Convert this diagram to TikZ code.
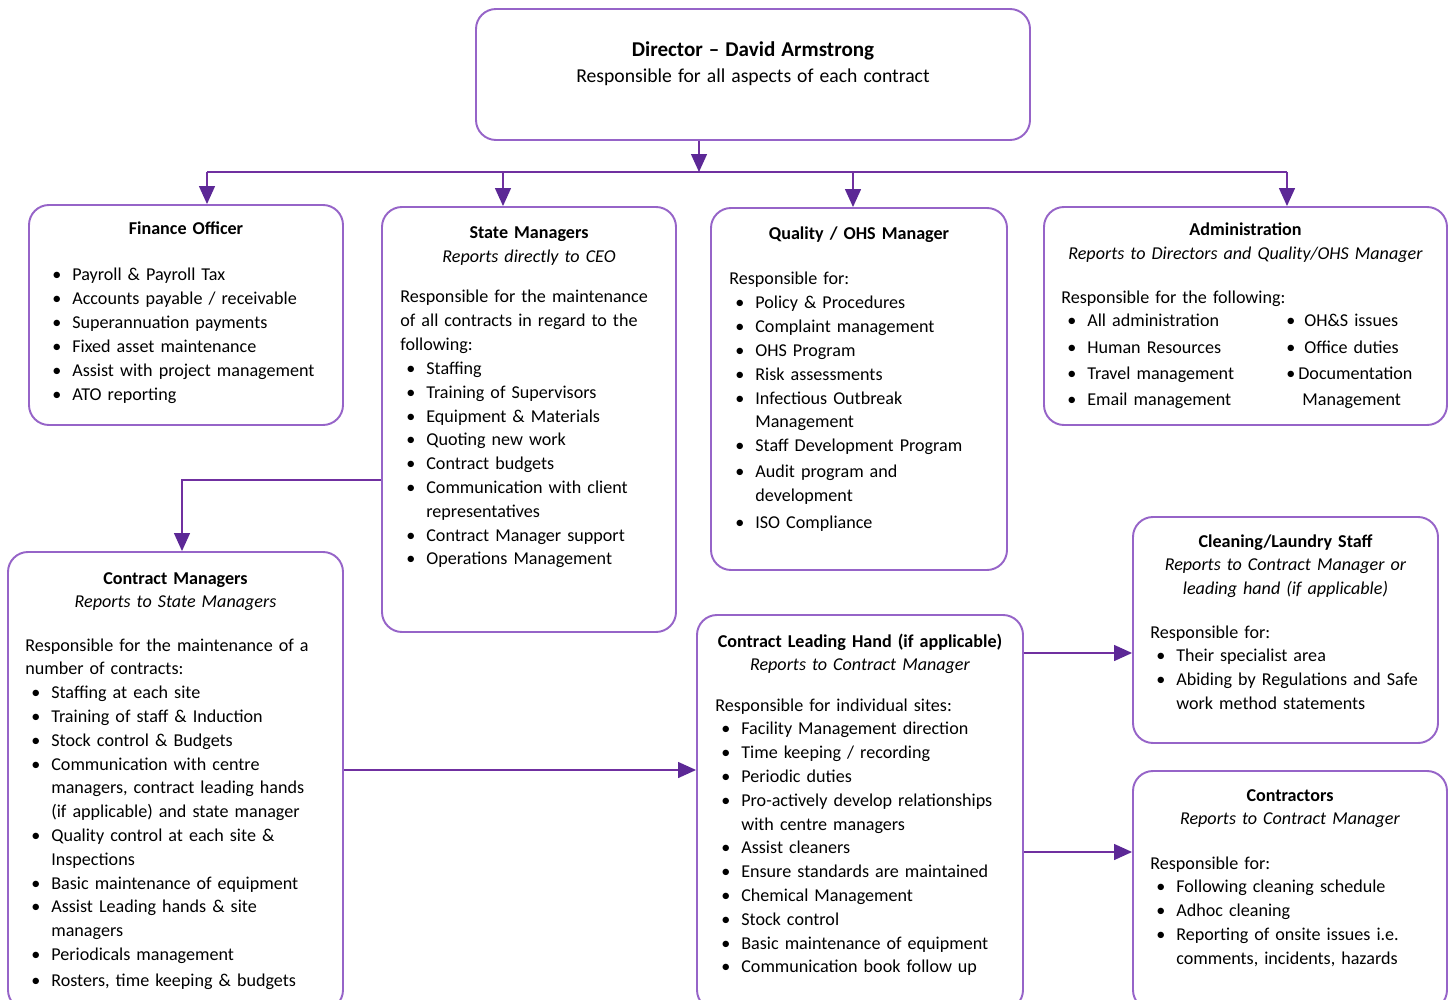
\documentclass[tikz,border=0pt]{standalone}
\usepackage{fontspec}
\setmainfont{Carlito}
\usetikzlibrary{arrows.meta,fit}
\definecolor{boxline}{RGB}{150,100,200}
\definecolor{linkline}{RGB}{112,48,160}
\definecolor{tipfill}{RGB}{92,40,150}
\newcommand{\bfirst}{\noindent\hbox to 0.52cm{\hspace{0.12cm}\textbullet\hfil}}
\newcommand{\bitem}{\par\bfirst}
\newcommand{\bnext}{\par\noindent\hspace*{0.52cm}}
\tikzset{
	orgbox/.style={draw=boxline,line width=1.1pt,rounded corners=0.4cm,inner sep=0pt},
	bus/.style={draw=linkline,line width=0.8pt},
	link/.style={bus,-{Triangle[width=0.32cm,length=0.36cm,color=tipfill]}},
	headtext/.style={anchor=base,yshift=-0.04cm,text width=8cm,align=center,inner sep=0pt,font=\fontsize{10.3}{13.4}\selectfont},
	bodytext/.style={anchor=base west,yshift=-0.02cm,text width=8cm,align=left,inner sep=0pt,font=\fontsize{10.3}{13.55}\selectfont}
}
\begin{document}
\begin{tikzpicture}[x=0.02cm,y=-0.02cm]
	\useasboundingbox (0,0) rectangle (1451,1000);
	\clip (0,0) rectangle (1451,1000);
	\node[orgbox,fit={(476,9) (1030,140)}] (dir) {};
	\node[orgbox,fit={(29,205) (343,425)}] (fin) {};
	\node[orgbox,fit={(382,207) (676,632)}] (state) {};
	\node[orgbox,fit={(711,208) (1007,570)}] (qual) {};
	\node[orgbox,fit={(1044,207) (1447,425)}] (admin) {};
	\node[orgbox,fit={(8,552) (343,1010)}] (cm) {};
	\node[orgbox,fit={(697,615) (1023,1010)}] (lead) {};
	\node[orgbox,fit={(1133,517) (1438,743)}] (clean) {};
	\node[orgbox,fit={(1133,771) (1447,1010)}] (contr) {};
	\node[headtext] (dirhead) at (753,55) {{\fontsize{12}{13.4}\selectfont\bfseries Director – David Armstrong}\\[0.04cm]{\fontsize{11.2}{13.4}\selectfont Responsible for all aspects of each contract}};
	\node[headtext] (finhead) at (186,233) {\textbf{Finance Officer}};
	\node[bodytext] (finbody) at (46,280) {\bfirst Payroll \& Payroll Tax \bitem Accounts payable / receivable \bitem Superannuation payments \bitem Fixed asset maintenance \bitem Assist with project management \bitem ATO reporting};
	\node[headtext] (statehead) at (529,237) {\textbf{State Managers}\\\textit{Reports directly to CEO}};
	\node[bodytext] (statebody) at (400,302) {Responsible for the maintenance\\of all contracts in regard to the\\following: \bitem Staffing \bitem Training of Supervisors \bitem Equipment \& Materials \bitem Quoting new work \bitem Contract budgets \bitem Communication with client\bnext representatives \bitem Contract Manager support \bitem Operations Management};
	\node[headtext] (qualhead) at (859,238) {\textbf{Quality / OHS Manager}};
	\node[bodytext] (qualbody) at (729,284) {Responsible for: \bitem Policy \& Procedures \bitem Complaint management \bitem OHS Program \bitem Risk assessments \bitem Infectious Outbreak\bnext Management \bitem Staff Development Program \par\vspace{0.05cm}\bitem Audit program and\bnext development \par\vspace{0.06cm}\bitem ISO Compliance};
	\node[headtext] (adminhead) at (1245.5,234) {\textbf{Administration}\\\textit{Reports to Directors and Quality/OHS Manager}};
	\node[bodytext] (adminbody) at (1061,303) {Responsible for the following:};
	\node[bodytext,font=\fontsize{10.3}{14.8}\selectfont] (adminleft) at (1061,326) {\bfirst All administration \bitem Human Resources \bitem Travel management \bitem Email management};
	\node[bodytext,font=\fontsize{10.3}{14.8}\selectfont] (adminright) at (1286,326) {\makebox[0.36cm][l]{\textbullet}OH\&S issues\\\makebox[0.36cm][l]{\textbullet}Office duties\\\makebox[0.24cm][l]{\textbullet}Documentation\\\hspace*{0.32cm}Management};
	\node[headtext] (cmhead) at (175.5,582) {\textbf{Contract Managers}\\\textit{Reports to State Managers}};
	\node[bodytext] (cmbody) at (25,650) {Responsible for the maintenance of a\\number of contracts: \bitem Staffing at each site \bitem Training of staff \& Induction \bitem Stock control \& Budgets \bitem Communication with centre\bnext managers, contract leading hands\bnext (if applicable) and state manager \bitem Quality control at each site \&\bnext Inspections \bitem Basic maintenance of equipment \bitem Assist Leading hands \& site\bnext managers \bitem Periodicals management \par\vspace{0.04cm}\bitem Rosters, time keeping \& budgets};
	\node[headtext] (leadhead) at (860,645) {\textbf{Contract Leading Hand (if applicable)}\\\textit{Reports to Contract Manager}};
	\node[bodytext] (leadbody) at (715,710) {Responsible for individual sites: \bitem Facility Management direction \bitem Time keeping / recording \bitem Periodic duties \bitem Pro-actively develop relationships\bnext with centre managers \bitem Assist cleaners \bitem Ensure standards are maintained \bitem Chemical Management \bitem Stock control \bitem Basic maintenance of equipment \bitem Communication book follow up};
	\node[headtext] (cleanhead) at (1285.5,545) {\textbf{Cleaning/Laundry Staff}\\\textit{Reports to Contract Manager or}\\\textit{leading hand (if applicable)}};
	\node[bodytext] (cleanbody) at (1150,637) {Responsible for: \bitem Their specialist area \bitem Abiding by Regulations and Safe\bnext work method statements};
	\node[headtext] (contrhead) at (1290,799) {\textbf{Contractors}\\\textit{Reports to Contract Manager}};
	\node[bodytext] (contrbody) at (1150,868) {Responsible for: \bitem Following cleaning schedule \bitem Adhoc cleaning \bitem Reporting of onsite issues i.e.\bnext comments, incidents, hazards};
	\coordinate (busL) at (207,172);
	\coordinate (busA) at (503,172);
	\coordinate (busM) at (699,172);
	\coordinate (busB) at (853,172);
	\coordinate (busR) at (1287,172);
	\draw[bus] (busL) -- (busR);
	\draw[link] (dir.south -| busM) -- (busM);
	\draw[link] (busL) -- (busL |- fin.north);
	\draw[link] (busA) -- (busA |- state.north);
	\draw[link] (busB) -- (busB |- qual.north);
	\draw[link] (busR) -- (busR |- admin.north);
	\coordinate (cmturn) at (182,480);
	\draw[link] (state.west |- cmturn) -- (cmturn) -- (cmturn |- cm.north);
	\coordinate (leadlevel) at (0,770);
	\coordinate (cleanlevel) at (0,653);
	\coordinate (contrlevel) at (0,852);
	\draw[link] (cm.east |- leadlevel) -- (lead.west |- leadlevel);
	\draw[link] (lead.east |- cleanlevel) -- (clean.west |- cleanlevel);
	\draw[link] (lead.east |- contrlevel) -- (contr.west |- contrlevel);
\end{tikzpicture}
\end{document}
